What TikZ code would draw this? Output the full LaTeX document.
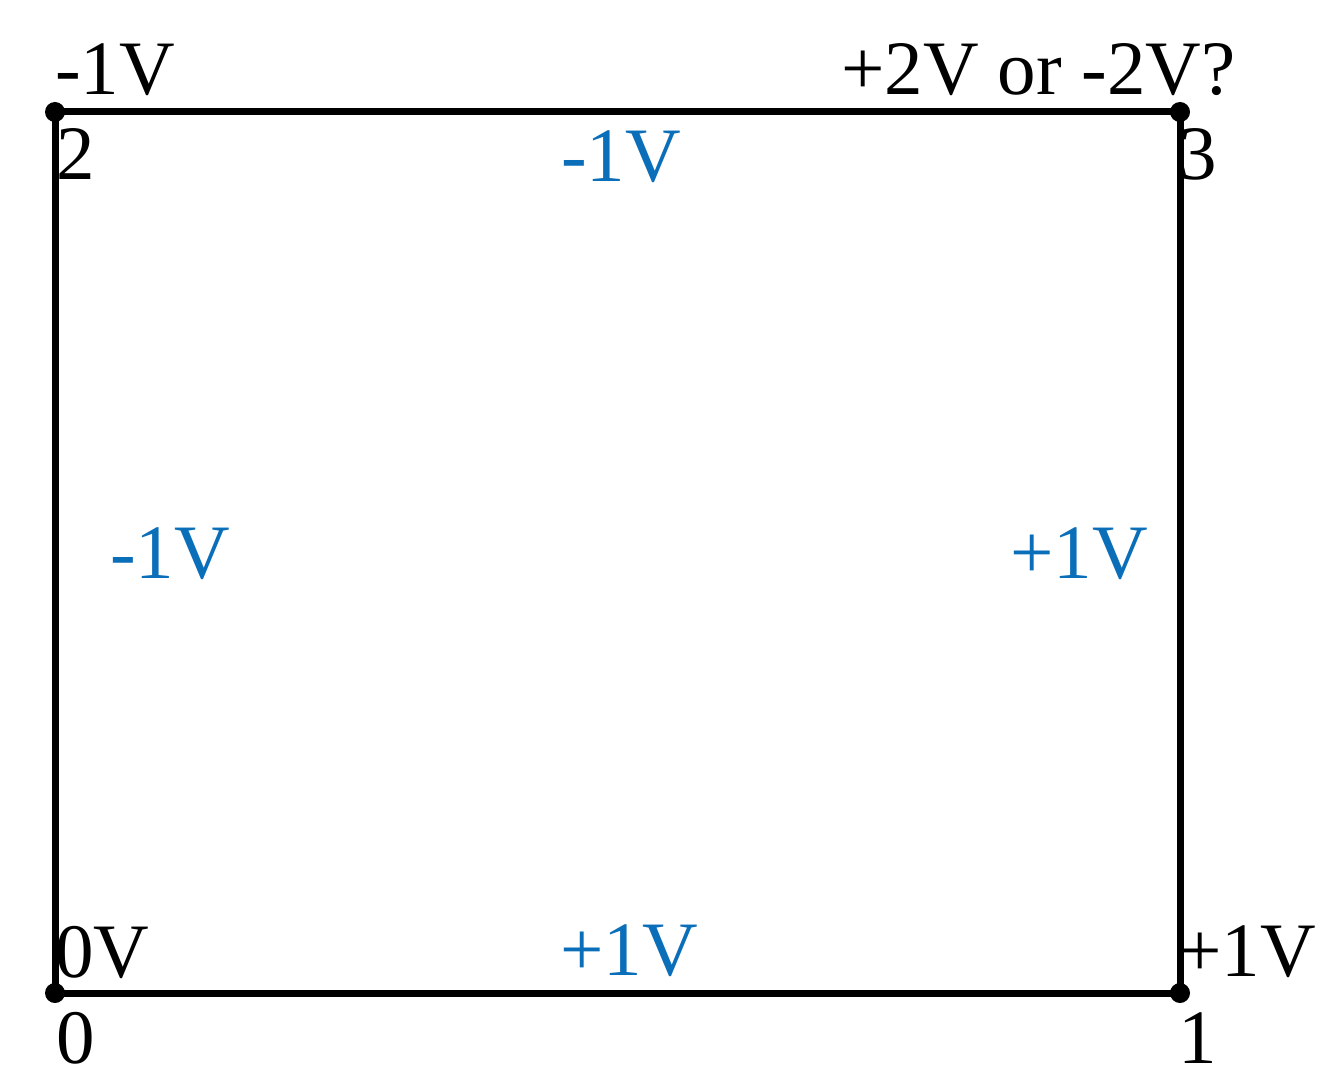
\documentclass[tikz,border=0pt]{standalone}
\usepackage{fontspec}
\setmainfont{Liberation Serif}
\definecolor{volt}{RGB}{10,110,185}
\begin{document}
\begin{tikzpicture}[x=1pt,y=-1pt,
  lbl/.style={anchor=base west,inner sep=0pt,font=\fontsize{77}{90}\selectfont},
  blbl/.style={lbl,text=volt},
  wire/.style={line width=7pt,black},
  dot/.style={circle,fill=black,inner sep=0pt,minimum size=20pt}]
\useasboundingbox (0,0) rectangle (1341,1091);
\node[dot] (n0) at (55,993) {};
\node[dot] (n1) at (1180,993) {};
\node[dot] (n2) at (55,112) {};
\node[dot] (n3) at (1180,112) {};
\draw[wire] (n0.center) -- (n1.center) -- (n3.center) -- (n2.center) -- cycle;
\node[lbl] (v2) at (55,95) {-1V};
\node[lbl] (i2) at (56,180) {2};
\node[lbl] (v3) at (841,95) {+2V or -2V?};
\node[lbl] (i3) at (1178,180) {3};
\node[lbl] (v0) at (55,977) {0V};
\node[lbl] (i0) at (56,1063) {0};
\node[lbl] (v1) at (1178,976) {+1V};
\node[lbl] (i1) at (1178,1063) {1};
\node[blbl] (e23) at (561,182) {-1V};
\node[blbl] (e02) at (110,578) {-1V};
\node[blbl] (e13) at (1010,578) {+1V};
\node[blbl] (e01) at (560,975) {+1V};
\end{tikzpicture}
\end{document}
